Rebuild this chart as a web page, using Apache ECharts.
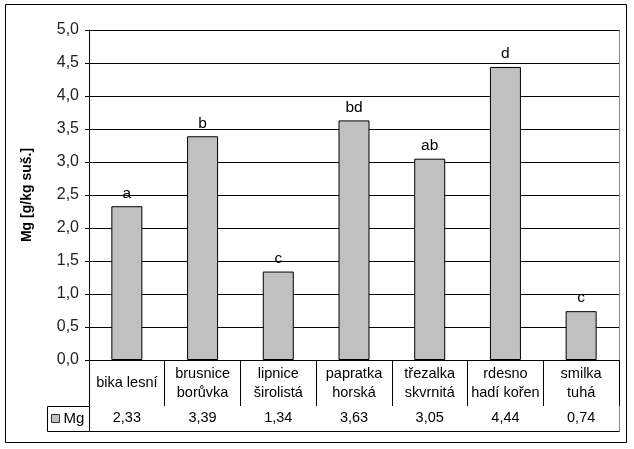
<!DOCTYPE html>
<html>
<head>
<meta charset="utf-8">
<script src="https://cdn.jsdelivr.net/npm/echarts@6/dist/echarts.min.js"></script>
<style>
html,body{margin:0;padding:0;background:#fff;}
#c{width:634px;height:449px;}
</style>
</head>
<body>
<div id="c"></div>
<script>
const categories = ['bika lesní', 'brusnice\nborůvka', 'lipnice\nširolistá', 'papratka\nhorská', 'třezalka\nskvrnitá', 'rdesno\nhadí kořen', 'smilka\ntuhá'];
const mgValues = [2.33, 3.39, 1.34, 3.63, 3.05, 4.44, 0.74];
const letters = ['a', 'b', 'c', 'bd', 'ab', 'd', 'c'];
const yTicks = { min: 0, max: 5, interval: 0.5 };
const seriesName = 'Mg';
const yName = 'Mg [g/kg suš.]';

const FONT = 'Liberation Sans, Arial, sans-serif';
const comma = (v, d) => v.toFixed(d).replace('.', ',');

const chart = echarts.init(document.getElementById('c'), null, { renderer: 'canvas' });
chart.setOption({
  backgroundColor: '#fff',
  animation: false,
  textStyle: { fontFamily: FONT },
  grid: { left: 89, top: 30, width: 530, height: 330, containLabel: false },
  legend: {
    data: [seriesName], left: 51, top: 411, padding: 0,
    icon: 'rect', itemWidth: 8, itemHeight: 8, itemGap: 4,
    itemStyle: { color: '#c0c0c0', borderColor: '#333', borderWidth: 1 },
    textStyle: { fontSize: 15, color: '#000', fontFamily: FONT, padding: [0, 0, 0, -1] }
  },
  xAxis: [
    {
      type: 'category', data: categories, position: 'bottom',
      axisLine: { lineStyle: { color: '#000', width: 1 } },
      axisTick: { show: true, interval: 0, length: 46, lineStyle: { color: '#000' } },
      axisLabel: { interval: 0, fontSize: 14.5, color: '#000', lineHeight: 19, verticalAlign: 'middle', margin: 23, fontFamily: FONT },
      splitLine: { show: false }
    },
    {
      type: 'category', data: mgValues.map(v => comma(v, 2)), position: 'bottom', offset: 46,
      axisLine: { lineStyle: { color: '#000', width: 1 } },
      axisTick: { show: true, interval: 0, length: 25, lineStyle: { color: '#000' } },
      axisLabel: { interval: 0, fontSize: 14.5, color: '#000', verticalAlign: 'middle', margin: 12, fontFamily: FONT },
      splitLine: { show: false }
    },
    {
      type: 'category', data: categories, position: 'bottom', offset: 71,
      axisLine: { lineStyle: { color: '#000', width: 1 } },
      axisTick: { show: false }, axisLabel: { show: false }, splitLine: { show: false }
    }
  ],
  yAxis: [
    {
      type: 'value', min: yTicks.min, max: yTicks.max, interval: yTicks.interval,
      name: yName, nameLocation: 'middle', nameGap: 55, nameRotate: 90,
      nameTextStyle: { fontSize: 14, fontWeight: 'bold', color: '#000', fontFamily: FONT },
      axisLine: { show: true, lineStyle: { color: '#000' } },
      axisTick: { show: true, length: 4, lineStyle: { color: '#000' } },
      axisLabel: { fontSize: 16, color: '#222', margin: 10, formatter: v => comma(v, 1), fontFamily: FONT },
      splitLine: { show: true, lineStyle: { color: '#000', width: 1 } }
    },
    {
      type: 'value', position: 'right', min: yTicks.min, max: yTicks.max, interval: yTicks.interval,
      axisLine: { show: true, lineStyle: { color: '#888' } },
      axisTick: { show: false }, axisLabel: { show: false }, splitLine: { show: false }
    }
  ],
  series: [{
    name: seriesName, type: 'bar', data: mgValues, barWidth: 31, xAxisIndex: 0, yAxisIndex: 0,
    itemStyle: { color: '#c0c0c0', borderColor: '#000', borderWidth: 1 },
    label: {
      show: true, position: 'top', distance: 5, fontSize: 15.5, color: '#000', fontFamily: FONT,
      formatter: p => letters[p.dataIndex]
    }
  }],
  graphic: [
    { type: 'rect', shape: { x: 5.5, y: 4.5, width: 621, height: 438 }, style: { fill: 'none', stroke: '#000', lineWidth: 1 }, silent: true },
    { type: 'rect', shape: { x: 47.5, y: 406.5, width: 42, height: 25 }, style: { fill: 'none', stroke: '#000', lineWidth: 1 }, silent: true },
    { type: 'line', shape: { x1: 619.5, y1: 360, x2: 619.5, y2: 432 }, style: { stroke: '#888', lineWidth: 1 }, silent: true }
  ]
});
</script>
</body>
</html>
